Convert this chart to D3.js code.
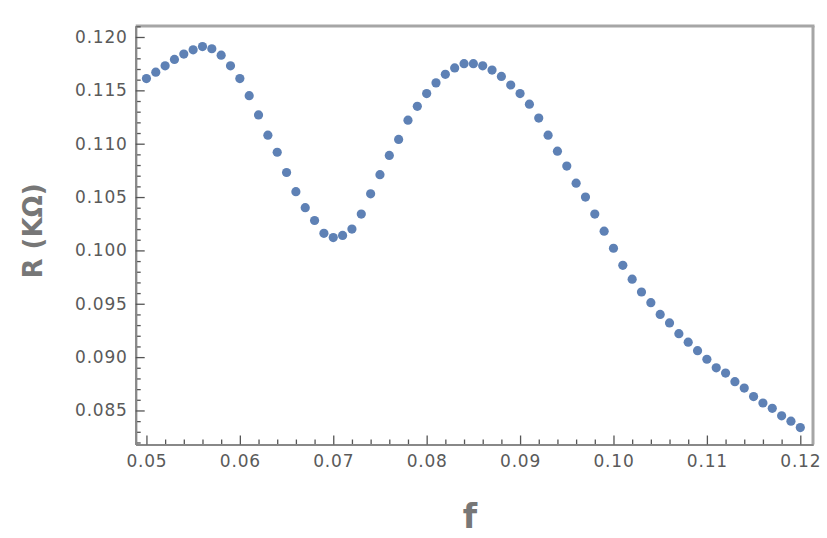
<!DOCTYPE html>
<html>
<head>
<meta charset="utf-8">
<script src="https://cdn.jsdelivr.net/npm/d3@7"></script>
<style>
  body { margin: 0; background: #fff; }
  svg { display: block; }
  .tick text { font-family: "DejaVu Sans", sans-serif; font-size: 17px; fill: #5a5a5a; letter-spacing: 0.8px; }
  .title { font-family: "DejaVu Sans", sans-serif; font-weight: bold; fill: #777; }
</style>
</head>
<body>
<script>
// frequency values (f)
const freq = [
  0.050, 0.051, 0.052, 0.053, 0.054, 0.055, 0.056, 0.057, 0.058, 0.059,
  0.060, 0.061, 0.062, 0.063, 0.064, 0.065, 0.066, 0.067, 0.068, 0.069,
  0.070, 0.071, 0.072, 0.073, 0.074, 0.075, 0.076, 0.077, 0.078, 0.079,
  0.080, 0.081, 0.082, 0.083, 0.084, 0.085, 0.086, 0.087, 0.088, 0.089,
  0.090, 0.091, 0.092, 0.093, 0.094, 0.095, 0.096, 0.097, 0.098, 0.099,
  0.100, 0.101, 0.102, 0.103, 0.104, 0.105, 0.106, 0.107, 0.108, 0.109,
  0.110, 0.111, 0.112, 0.113, 0.114, 0.115, 0.116, 0.117, 0.118, 0.119,
  0.120
];

// resistance values R (KΩ)
const resistance = [
  0.1161, 0.1167, 0.1173, 0.1179, 0.1184, 0.1188, 0.1191, 0.1189, 0.1183, 0.1173,
  0.1161, 0.1145, 0.1127, 0.1108, 0.1092, 0.1073, 0.1055, 0.1040, 0.1028, 0.1016,
  0.1012, 0.1014, 0.1020, 0.1034, 0.1053, 0.1071, 0.1089, 0.1104, 0.1122, 0.1135,
  0.1147, 0.1157, 0.1165, 0.1171, 0.1175, 0.1175, 0.1173, 0.1169, 0.1163, 0.1155,
  0.1147, 0.1137, 0.1124, 0.1108, 0.1093, 0.1079, 0.1063, 0.1050, 0.1034, 0.1018,
  0.1002, 0.0986, 0.0973, 0.0961, 0.0951, 0.0940, 0.0932, 0.0922, 0.0914, 0.0906,
  0.0898, 0.0890, 0.0885, 0.0877, 0.0871, 0.0863, 0.0857, 0.0852, 0.0845, 0.0840,
  0.0834
];

// tick labels
const xTicks = [0.05, 0.06, 0.07, 0.08, 0.09, 0.10, 0.11, 0.12];
const xLabels = ["0.05", "0.06", "0.07", "0.08", "0.09", "0.10", "0.11", "0.12"];
const yTicks = [0.085, 0.090, 0.095, 0.100, 0.105, 0.110, 0.115, 0.120];
const yLabels = ["0.085", "0.090", "0.095", "0.100", "0.105", "0.110", "0.115", "0.120"];

const width = 827, height = 538;
const plotLeft = 135.7, plotRight = 813, plotTop = 26, plotBottom = 444.5;

const svg = d3.select("body").append("svg")
    .attr("width", width)
    .attr("height", height);

let x = d3.scaleLinear().domain([0.04885, 0.12136]).range([plotLeft, plotRight]);
let y = d3.scaleLinear().domain([0.08181, 0.12103]).range([plotBottom, plotTop]);

//frame top and right
svg.append("line").attr("x1", plotLeft).attr("x2", plotRight + 1.5).attr("y1", plotTop).attr("y2", plotTop)
    .attr("stroke", "#a6a6a6").attr("stroke-width", 3);
svg.append("line").attr("x1", plotRight).attr("x2", plotRight).attr("y1", plotTop).attr("y2", plotBottom)
    .attr("stroke", "#a6a6a6").attr("stroke-width", 3);

//minor ticks
let xMinor = d3.range(0, 36).map(i => +(0.05 + i * 0.002).toFixed(3)).filter(v => xTicks.indexOf(v) < 0);
let yMinor = d3.range(82, 122).map(i => +(i / 1000).toFixed(3)).filter(v => yTicks.indexOf(v) < 0);

let xAxis = d3.axisBottom(x).tickValues(xTicks).tickSizeInner(-9).tickSizeOuter(0)
    .tickPadding(10).tickFormat((d, i) => xLabels[i]);
let xMinorAxis = d3.axisBottom(x).tickValues(xMinor).tickSizeInner(-5).tickSizeOuter(0).tickFormat("");

let yAxis = d3.axisLeft(y).tickValues(yTicks).tickSizeInner(-9).tickSizeOuter(0)
    .tickPadding(8).tickFormat((d, i) => yLabels[i]);
let yMinorAxis = d3.axisLeft(y).tickValues(yMinor).tickSizeInner(-5).tickSizeOuter(0).tickFormat("");

[xMinorAxis, xAxis].forEach(a => {
    svg.append("g").attr("transform", "translate(0," + plotBottom + ")").call(a);
});
[yMinorAxis, yAxis].forEach(a => {
    svg.append("g").attr("transform", "translate(" + plotLeft + ",0)").call(a);
});

svg.selectAll(".domain").attr("stroke", "#888").attr("stroke-width", 2);
svg.selectAll(".tick line").attr("stroke", "#555").attr("stroke-width", 1.3);

//points
svg.append("g").selectAll("circle")
    .data(freq).enter().append("circle")
    .attr("cx", function(d, i){ return x(d); })
    .attr("cy", function(d, i){ return y(resistance[i]); })
    .attr("r", 4.6)
    .attr("fill", "#5E81B5");

//axis titles
svg.append("text").attr("class", "title")
    .attr("x", 470).attr("y", 528)
    .attr("text-anchor", "middle")
    .style("font-size", "33px")
    .text("f");

svg.append("text").attr("class", "title")
    .attr("transform", "translate(42,231) rotate(-90)")
    .attr("text-anchor", "middle")
    .style("font-size", "26px")
    .text("R (KΩ)");
</script>
</body>
</html>
